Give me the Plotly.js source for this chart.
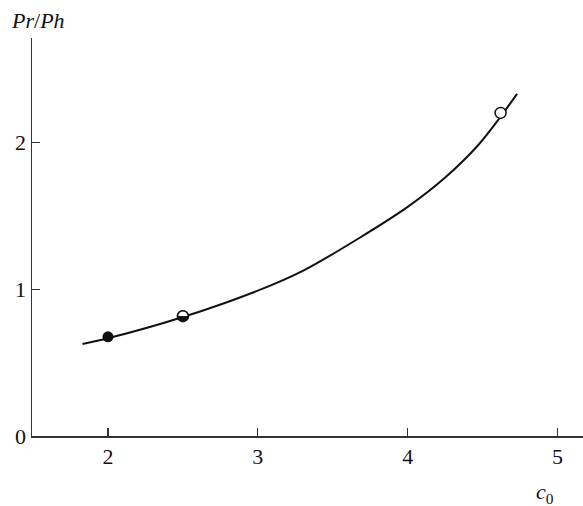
<!DOCTYPE html>
<html>
<head>
<meta charset="utf-8">
<script src="https://cdn.plot.ly/plotly-3.0.1.min.js"></script>
<style>html,body{margin:0;padding:0;background:#fff}#chart{width:583px;height:506px}</style>
</head>
<body>
<div id="chart"></div>
<script>
// Fitted curve
const curveX = [1.83, 2.0, 2.5, 3.0, 3.31, 3.68, 4.0, 4.25, 4.47, 4.61, 4.73];
const curveY = [0.626, 0.665, 0.81, 0.99, 1.13, 1.35, 1.56, 1.76, 1.98, 2.16, 2.33];
// Measured points
const filledX = [2.0];
const filledY = [0.675];
const halfX = [2.5];
const halfY = [0.816];
const openX = [4.62];
const openY = [2.2];
const xTicks = [2, 3, 4, 5];
const yTicks = [0, 1, 2];

const serif = '"Liberation Serif", "Times New Roman", Times, serif';
const traces = [
  {x: curveX, y: curveY, mode: 'lines', type: 'scatter',
   line: {shape: 'spline', smoothing: 0.8, color: '#111', width: 2}},
  {x: openX, y: openY, mode: 'markers', type: 'scatter',
   marker: {symbol: 'circle', size: 11, color: '#fff', line: {color: '#111', width: 1.5}}},
  {x: halfX, y: halfY, mode: 'markers', type: 'scatter',
   marker: {symbol: 'circle', size: 11, color: '#fff', line: {color: '#111', width: 1.5}}},
  {x: halfX, y: halfY, mode: 'text', type: 'scatter', text: ['◒'],
   textposition: 'middle center',
   textfont: {family: 'DejaVu Sans', size: 15, color: '#111'}},
  {x: filledX, y: filledY, mode: 'markers', type: 'scatter',
   marker: {symbol: 'circle', size: 11, color: '#111'}}
];

const layout = {
  width: 583, height: 506,
  margin: {l: 32, r: 0, t: 38, b: 70},
  showlegend: false,
  paper_bgcolor: '#fff', plot_bgcolor: '#fff',
  font: {family: serif, size: 22, color: '#111'},
  xaxis: {
    range: [1.493, 5.17], tickvals: xTicks, ticktext: xTicks.map(String),
    ticks: 'inside', ticklen: 8, tickwidth: 1.2, tickcolor: '#333',
    showline: true, linecolor: '#333', linewidth: 1.5,
    showgrid: false, zeroline: false,
    tickfont: {family: serif, size: 22}
  },
  yaxis: {
    range: [0, 2.71], tickvals: yTicks, ticktext: yTicks.map(String),
    ticks: 'inside', ticklen: 8, tickwidth: 1.2, tickcolor: '#333',
    showline: true, linecolor: '#333', linewidth: 1.5,
    showgrid: false, zeroline: false,
    tickfont: {family: serif, size: 22}
  },
  annotations: [
    {text: '<i>Pr</i>/<i>Ph</i>', xref: 'paper', yref: 'paper', x: -0.042, y: 1.043,
     xanchor: 'left', yanchor: 'middle', showarrow: false, font: {family: serif, size: 22}},
    {text: '<i>c</i><sub>0</sub>', xref: 'paper', yref: 'paper', x: 0.931, y: -0.143,
     xanchor: 'center', yanchor: 'middle', showarrow: false, font: {family: serif, size: 22}}
  ]
};

Plotly.newPlot('chart', traces, layout, {displayModeBar: false, staticPlot: true});
</script>
</body>
</html>
